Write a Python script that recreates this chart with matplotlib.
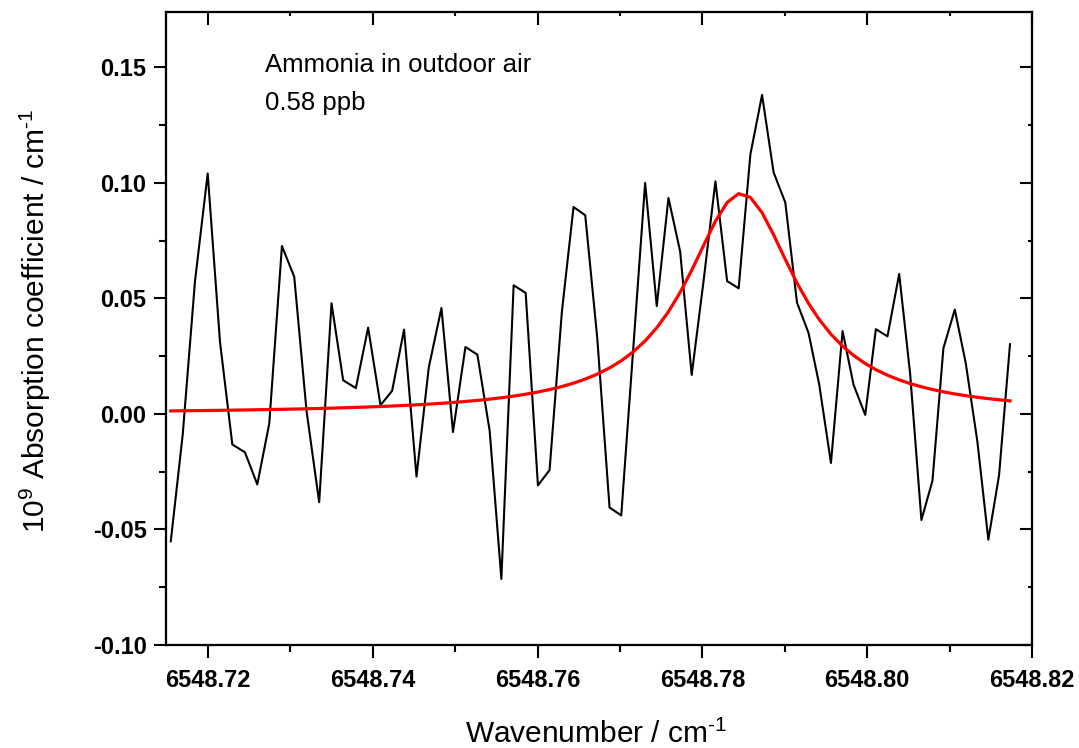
import matplotlib
matplotlib.use("Agg")
import matplotlib.pyplot as plt
from matplotlib.ticker import MultipleLocator, FormatStrFormatter

wavenumber = [
    6548.71548, 6548.71693, 6548.71842, 6548.71996, 6548.72145, 6548.72295,
    6548.72448, 6548.72598, 6548.72743, 6548.72897, 6548.73046, 6548.73196,
    6548.73349, 6548.73499, 6548.73640, 6548.73794, 6548.73943, 6548.74093,
    6548.74234, 6548.74379, 6548.74530, 6548.74679, 6548.74833, 6548.74973,
    6548.75124, 6548.75269, 6548.75418, 6548.75560, 6548.75709, 6548.75855,
    6548.76004, 6548.76145, 6548.76295, 6548.76436, 6548.76578, 6548.76724,
    6548.76873, 6548.77015, 6548.77160, 6548.77305, 6548.77446, 6548.77588,
    6548.77730, 6548.77870, 6548.78012, 6548.78158, 6548.78300, 6548.78440,
    6548.78582, 6548.78724, 6548.78864, 6548.79006, 6548.79148, 6548.79288,
    6548.79418, 6548.79560, 6548.79701, 6548.79834, 6548.79976, 6548.80105,
    6548.80246, 6548.80388, 6548.80521, 6548.80658, 6548.80792, 6548.80925,
    6548.81063, 6548.81196, 6548.81337, 6548.81470, 6548.81600, 6548.81733,
]

measured = [
    -0.0551, -0.0089, 0.0575, 0.1041, 0.0313, -0.0132,
    -0.0166, -0.0305, -0.0042, 0.0727, 0.0594, 0.0012,
    -0.0382, 0.0479, 0.0146, 0.0112, 0.0374, 0.0038,
    0.0100, 0.0365, -0.0271, 0.0201, 0.0459, -0.0078,
    0.0290, 0.0257, -0.0073, -0.0714, 0.0557, 0.0524,
    -0.0309, -0.0243, 0.0444, 0.0896, 0.0860, 0.0328,
    -0.0405, -0.0439, 0.0280, 0.1000, 0.0467, 0.0935,
    0.0703, 0.0169, 0.0570, 0.1007, 0.0575, 0.0544,
    0.1123, 0.1381, 0.1046, 0.0915, 0.0482, 0.0351,
    0.0127, -0.0212, 0.0359, 0.0127, -0.0004, 0.0367,
    0.0336, 0.0606, 0.0174, -0.0459, -0.0289, 0.0285,
    0.0452, 0.0220, -0.0119, -0.0544, -0.0266, 0.0302,
]

fitted = [
    0.00132, 0.00138, 0.00144, 0.00151, 0.00158, 0.00166,
    0.00174, 0.00183, 0.00192, 0.00202, 0.00213, 0.00225,
    0.00239, 0.00253, 0.00268, 0.00285, 0.00303, 0.00324,
    0.00345, 0.00369, 0.00396, 0.00427, 0.00462, 0.00498,
    0.00541, 0.00588, 0.00643, 0.00703, 0.00774, 0.00855,
    0.00951, 0.01056, 0.01188, 0.01335, 0.01510, 0.01726,
    0.01993, 0.02302, 0.02689, 0.03164, 0.03730, 0.04427,
    0.05264, 0.06220, 0.07279, 0.08342, 0.09156, 0.09538,
    0.09375, 0.08714, 0.07758, 0.06691, 0.05672, 0.04787,
    0.04087, 0.03451, 0.02935, 0.02535, 0.02184, 0.01919,
    0.01678, 0.01476, 0.01316, 0.01176, 0.01059, 0.00959,
    0.00868, 0.00793, 0.00722, 0.00664, 0.00613, 0.00567,
]

annotation_lines = ["Ammonia in outdoor air", "0.58 ppb"]
x_label = r'Wavenumber / cm$^{\text{-1}}$'
y_label = r'10$^{\text{9}}$ Absorption coefficient / cm$^{\text{-1}}$'

plt.rcParams['font.family'] = ['Liberation Sans', 'DejaVu Sans']
plt.rcParams['mathtext.fontset'] = 'custom'
plt.rcParams['mathtext.rm'] = 'Liberation Sans'
plt.rcParams['axes.unicode_minus'] = False

fig = plt.figure(figsize=(10.79, 7.48), dpi=100)
ax = fig.add_axes([166/1079, 1 - 645/748, (1032 - 166)/1079, (645 - 12)/748])

ax.plot(wavenumber, measured, color='black', lw=1.5)
ax.plot(wavenumber, fitted, color='#ff0000', lw=2.3)

ax.set_xlim(6548.7149, 6548.82)
ax.set_ylim(-0.10, 0.174)

for a in (ax,):
    a.xaxis.set_major_locator(MultipleLocator(0.02))
    a.xaxis.set_minor_locator(MultipleLocator(0.01))
    a.yaxis.set_major_locator(MultipleLocator(0.05))
    a.yaxis.set_minor_locator(MultipleLocator(0.025))
ax.xaxis.set_major_formatter(FormatStrFormatter('%.2f'))
ax.yaxis.set_major_formatter(FormatStrFormatter('%.2f'))

for s in ax.spines.values():
    s.set_linewidth(1.5)

ax.tick_params(which='major', direction='out', length=9, width=1.5,
               labelsize=17, pad=5)
ax.tick_params(which='minor', direction='out', length=5, width=1.5)
ax.tick_params(axis='x', which='major', pad=8)
ax.tick_params(which='both', top=False, right=False)

# inward ticks on top/right
axt = ax.twiny()
axt.set_xlim(ax.get_xlim())
axt.xaxis.set_major_locator(MultipleLocator(0.02))
axt.xaxis.set_minor_locator(MultipleLocator(0.01))
axt.tick_params(which='major', direction='in', length=9, width=1.5, labeltop=False)
axt.tick_params(which='minor', direction='in', length=3, width=1.5)
axr = ax.twinx()
axr.set_ylim(ax.get_ylim())
axr.yaxis.set_major_locator(MultipleLocator(0.05))
axr.yaxis.set_minor_locator(MultipleLocator(0.025))
axr.tick_params(which='major', direction='in', length=9, width=1.5, labelright=False)
axr.tick_params(which='minor', direction='in', length=3, width=1.5)
for a in (axt, axr):
    for s in a.spines.values():
        s.set_linewidth(1.5)

for lbl in ax.get_xticklabels() + ax.get_yticklabels():
    lbl.set_fontweight('bold')

ax.set_xlabel(x_label, fontsize=21.5)
ax.xaxis.label.set_va('baseline')
ax.xaxis.set_label_coords(0.4965, (645 - 743) / 633)
ax.set_ylabel(y_label, fontsize=21.5)
ax.yaxis.set_label_coords((53 - 166) / 866, 0.512)

ax.text(0.114, (645 - 72) / 633, annotation_lines[0], transform=ax.transAxes,
        fontsize=18.5, va='baseline', ha='left')
ax.text(0.114, (645 - 110) / 633, annotation_lines[1], transform=ax.transAxes,
        fontsize=18.5, va='baseline', ha='left')

fig.savefig('out.png', dpi=100)
